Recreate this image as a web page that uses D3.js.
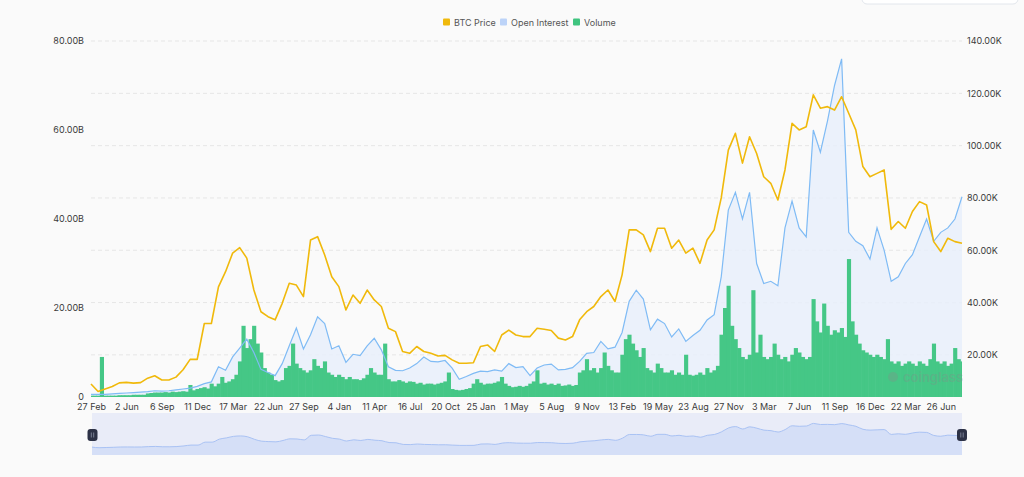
<!DOCTYPE html>
<html>
<head>
<meta charset="utf-8">
<script src="https://cdn.jsdelivr.net/npm/d3@7"></script>
<style>
  html, body { margin: 0; padding: 0; background: #fafafa; }
  #canvas { width: 1024px; height: 477px; overflow: hidden; }
  text { font-family: Inter, 'Noto Sans', sans-serif; }
</style>
</head>
<body>
<div id="canvas"></div>
<script>
// x axis labels, one every 5 price / OI points
var xLabels = ['27 Feb', '2 Jun', '6 Sep', '11 Dec', '17 Mar', '22 Jun', '27 Sep', '4 Jan', '11 Apr',
  '16 Jul', '20 Oct', '25 Jan', '1 May', '5 Aug', '9 Nov', '13 Feb', '19 May', '23 Aug', '27 Nov',
  '3 Mar', '7 Jun', '11 Sep', '16 Dec', '22 Mar', '26 Jun'];

var seriesNames = ['BTC Price', 'Open Interest', 'Volume'];

// BTC price, thousands of USD (right axis)
var priceK = [
  8.9, 6.0, 7.0, 7.9, 9.3, 9.5, 9.2, 9.4, 11.1, 12.0,
  10.4, 10.4, 11.5, 14.3, 18.3, 18.3, 32.0, 32.0, 46.0, 51.8,
  58.9, 61.0, 57.0, 44.8, 36.5, 34.6, 33.4, 39.7, 47.4, 46.7,
  42.3, 63.9, 65.2, 58.2, 49.9, 46.1, 37.2, 42.9, 39.7, 44.8,
  41.0, 38.5, 30.2, 28.9, 21.3, 20.6, 23.2, 21.3, 20.6, 19.6,
  19.8, 18.1, 16.8, 16.8, 17.0, 23.2, 23.8, 21.3, 27.6, 29.5,
  27.6, 27.0, 27.0, 30.2, 29.8, 29.3, 26.4, 25.7, 27.0, 33.4,
  36.5, 38.5, 42.3, 44.8, 40.4, 50.6, 67.8, 67.8, 65.9, 59.5,
  68.4, 68.4, 60.8, 63.9, 58.9, 60.8, 55.0, 63.9, 67.8, 80.0,
  98.3, 104.7, 93.3, 103.4, 97.0, 88.1, 85.6, 79.2, 90.7, 108.5,
  106.0, 107.2, 119.4, 114.3, 114.9, 113.6, 118.7, 112.4, 106.0, 92.0,
  88.1, 89.4, 90.7, 68.0, 71.0, 68.4, 74.8, 78.6, 77.3, 63.3,
  59.5, 64.6, 63.3, 62.7
];

// open interest, billions of USD (left axis)
var openInterestB = [
  0.6, 0.6, 0.6, 0.7, 0.8, 0.9, 1.0, 1.1, 1.2, 1.4,
  1.3, 1.4, 1.6, 1.8, 2.0, 2.4, 3.0, 3.4, 6.8, 6.0,
  9.0, 11.0, 13.0, 10.0, 6.2, 5.5, 4.8, 7.5, 11.5, 15.5,
  10.8, 14.0, 18.0, 16.5, 10.8, 11.5, 7.8, 9.6, 9.3, 11.5,
  13.2, 10.6, 6.8, 6.0, 5.9, 6.5, 7.5, 9.0, 8.0, 7.9,
  8.2, 6.5, 4.0, 4.6, 5.3, 5.8, 5.7, 6.1, 5.8, 7.5,
  6.6, 6.8, 4.8, 6.5, 7.2, 7.4, 6.1, 6.2, 6.6, 8.0,
  9.8, 10.0, 12.5, 10.8, 11.2, 14.5, 21.5, 24.0, 22.0, 15.1,
  17.5, 16.5, 13.5, 15.3, 12.5, 13.8, 15.0, 17.3, 18.5, 27.0,
  42.0, 46.0, 40.0, 46.0, 30.0, 25.5, 26.0, 25.0, 38.0, 44.0,
  38.0, 36.0, 60.0, 55.0, 62.0, 70.0, 76.0, 37.0, 35.0, 34.0,
  31.0, 38.0, 33.0, 26.0, 27.0, 30.0, 32.0, 36.0, 40.0, 35.0,
  37.0, 38.0, 40.0, 45.0
];

// volume, billions of USD (left axis), two bars per price point
var volumeB = [
  0.3, 0.3, 0.3, 9.0, 0.3, 0.3, 0.3, 0.3, 0.4, 0.4,
  0.4, 0.4, 0.5, 0.5, 0.5, 0.5, 0.8, 0.9, 1.0, 1.0,
  1.0, 1.1, 1.0, 1.2, 1.1, 1.2, 1.3, 1.2, 2.7, 1.5,
  1.8, 2.0, 2.2, 1.9, 3.0, 2.4, 3.0, 4.5, 3.2, 3.5,
  4.0, 5.0, 8.0, 16.0, 11.0, 13.0, 16.0, 12.0, 10.0, 6.5,
  5.5, 5.0, 3.8, 3.5, 3.8, 6.5, 7.0, 12.0, 7.5, 6.5,
  6.0, 5.5, 6.0, 8.5, 7.0, 6.5, 8.0, 5.5, 5.0, 4.5,
  5.0, 4.5, 4.0, 4.5, 4.0, 4.0, 3.8, 4.2, 5.0, 6.5,
  5.5, 5.0, 5.0, 12.0, 4.0, 3.5, 3.5, 3.8, 3.5, 3.2,
  3.5, 3.4, 3.0, 3.2, 2.8, 3.0, 3.0, 2.8, 3.0, 3.2,
  3.5, 5.5, 1.8, 1.6, 1.5, 1.6, 1.8, 2.0, 3.0, 4.0,
  3.2, 2.8, 3.0, 3.0, 3.2, 3.5, 4.5, 3.0, 2.5, 2.2,
  2.3, 2.5, 2.3, 2.5, 3.0, 3.5, 6.0, 3.0, 3.2, 2.8,
  3.0, 2.7, 3.0, 2.5, 2.6, 2.8, 2.5, 2.7, 5.5, 6.0,
  8.5, 6.0, 6.5, 5.5, 6.5, 10.0, 7.0, 6.0, 5.5, 5.5,
  9.5, 13.0, 14.0, 12.0, 10.5, 9.0, 11.0, 6.5, 6.0, 5.5,
  7.5, 6.5, 5.5, 5.5, 6.0, 5.0, 5.5, 5.0, 9.5, 5.0,
  4.8, 5.0, 5.5, 5.0, 6.5, 5.5, 6.0, 7.0, 14.0, 20.0,
  25.0, 16.0, 13.0, 11.0, 9.0, 8.5, 9.5, 24.0, 10.0, 14.0,
  9.0, 8.5, 9.0, 12.0, 9.5, 8.5, 9.0, 8.0, 9.5, 11.0,
  10.0, 9.0, 8.5, 9.0, 22.0, 17.0, 14.5, 21.0, 16.0, 14.0,
  15.0, 14.5, 15.5, 13.5, 31.0, 17.0, 14.0, 12.0, 10.5, 10.0,
  9.5, 9.0, 9.5, 9.0, 8.5, 13.0, 8.0, 7.5, 8.0, 7.0,
  7.5, 8.0, 7.5, 7.0, 8.0, 7.5, 7.0, 8.5, 12.0, 8.0,
  7.5, 8.0, 7.0, 7.5, 11.0, 8.5, 8.0
];

var leftTicks = [0, 20, 40, 60, 80];
var rightTicks = [20, 40, 60, 80, 100, 120, 140];

(function (d3) {
  var svg, x, xVol, yLeft, yRight, yNav;
  var plot = { left: 91, right: 962, top: 41, bottom: 397 };
  var labelEvery = 5;

  init();

  function init () {
    createSvg();
    createScales();
    createGrid();
    createAxes();
    createOpenInterest();
    createVolume();
    createLines();
    createWatermark();
    createLegend();
    createNavigator();
  }

  function createSvg () {
    svg = d3.select('#canvas')
      .append('svg')
      .attr('width', 1024)
      .attr('height', 477);

    svg.append('defs')
      .append('clipPath')
      .attr('id', 'plot-clip')
      .append('rect')
      .attr('x', plot.left)
      .attr('y', 0)
      .attr('width', plot.right - plot.left)
      .attr('height', plot.bottom);

    // the corner of a box above the chart
    svg.append('rect')
      .attr('x', 862)
      .attr('y', -12)
      .attr('width', 156)
      .attr('height', 16)
      .attr('rx', 5)
      .attr('fill', '#fff')
      .attr('stroke', '#e2e6ec');
  }

  function createScales () {
    x = d3.scaleLinear()
      .domain([0, priceK.length - 1])
      .range([plot.left, plot.right]);
    xVol = d3.scaleLinear()
      .domain([0, volumeB.length - 1])
      .range([plot.left, plot.right]);
    yLeft = d3.scaleLinear().domain([0, 80]).range([plot.bottom, plot.top]);
    // right axis does not start at zero
    yRight = d3.scaleLinear().domain([3.9, 140]).range([plot.bottom, plot.top]);
    yNav = d3.scaleLinear().domain([0, 140]).range([449, 419]);
  }

  function createGrid () {
    svg.append('g')
      .selectAll('line')
      .data(rightTicks)
      .enter()
      .append('line')
      .attr('x1', plot.left)
      .attr('x2', plot.right)
      .attr('y1', function (d) { return yRight(d); })
      .attr('y2', function (d) { return yRight(d); })
      .attr('stroke', '#e6e6e6')
      .attr('stroke-dasharray', '4,3');
  }

  function createAxes () {
    var left = d3.axisLeft(yLeft)
      .tickValues(leftTicks)
      .tickSize(0)
      .tickPadding(6)
      .tickFormat(function (d) { return d === 0 ? '0' : d3.format('.2f')(d) + 'B'; });
    var right = d3.axisRight(yRight)
      .tickValues(rightTicks)
      .tickSize(0)
      .tickPadding(5)
      .tickFormat(function (d) { return d3.format('.2f')(d) + 'K'; });
    var bottom = d3.axisBottom(x)
      .tickValues(xLabels.map(function (d, i) { return i * labelEvery; }))
      .tickSize(0)
      .tickPadding(7)
      .tickFormat(function (d) { return xLabels[d / labelEvery]; });

    [
      svg.append('g').attr('transform', 'translate(' + (plot.left - 1) + ',0)').call(left),
      svg.append('g').attr('transform', 'translate(' + plot.right + ',0)').call(right),
      svg.append('g').attr('transform', 'translate(0,' + plot.bottom + ')').call(bottom)
    ].forEach(function (g) {
      g.select('.domain').remove();
      g.selectAll('text')
        .attr('fill', '#3a3a3a')
        .style('font-size', '9px');
    });
  }

  function createOpenInterest () {
    var area = d3.area()
      .x(function (d, i) { return x(i); })
      .y0(plot.bottom)
      .y1(function (d) { return yLeft(d); });

    svg.append('path')
      .datum(openInterestB)
      .attr('d', area)
      .attr('fill', '#e7effa')
      .attr('opacity', 0.85);
  }

  function createVolume () {
    var step = xVol(1) - xVol(0);
    // bars overlap a little so no seams show between them
    svg.append('g')
      .attr('clip-path', 'url(#plot-clip)')
      .selectAll('rect')
      .data(volumeB)
      .enter()
      .append('rect')
      .attr('x', function (d, i) { return xVol(i) - step / 2; })
      .attr('width', step + 0.6)
      .attr('y', function (d) { return yLeft(d); })
      .attr('height', function (d) { return plot.bottom - yLeft(d); })
      .attr('fill', '#45c786');
  }

  function createLines () {
    var oiLine = d3.line()
      .x(function (d, i) { return x(i); })
      .y(function (d) { return yLeft(d); });
    svg.append('path')
      .datum(openInterestB)
      .attr('d', oiLine)
      .attr('fill', 'none')
      .attr('stroke', '#7fbbf5')
      .attr('stroke-width', 1.2);

    var priceLine = d3.line()
      .x(function (d, i) { return x(i); })
      .y(function (d) { return yRight(d); });
    svg.append('path')
      .datum(priceK)
      .attr('d', priceLine)
      .attr('fill', 'none')
      .attr('stroke', '#f0b90b')
      .attr('stroke-width', 1.6)
      .attr('stroke-linejoin', 'round');
  }

  function createWatermark () {
    var g = svg.append('g').attr('opacity', 0.3);
    g.append('circle')
      .attr('cx', 893)
      .attr('cy', 377)
      .attr('r', 5)
      .attr('fill', '#8a8a8a');
    g.append('text')
      .attr('x', 903)
      .attr('y', 382)
      .text('coinglass')
      .attr('fill', '#8a8a8a')
      .style('font-size', '13px')
      .style('font-weight', 600);
  }

  function createLegend () {
    var colors = ['#f0b90b', '#bcd3f8', '#3fc47f'];
    var offsets = [443, 500, 573];
    var items = svg.append('g')
      .selectAll('g')
      .data(seriesNames)
      .enter()
      .append('g')
      .attr('transform', function (d, i) { return 'translate(' + offsets[i] + ',18.5)'; });
    items.append('rect')
      .attr('width', 7)
      .attr('height', 7)
      .attr('rx', 1)
      .attr('fill', function (d, i) { return colors[i]; });
    items.append('text')
      .attr('x', 11)
      .attr('y', 7)
      .text(function (d) { return d; })
      .attr('fill', '#555')
      .style('font-size', '9px');
  }

  function createNavigator () {
    var nav = svg.append('g');
    nav.append('rect')
      .attr('x', 92)
      .attr('y', 413)
      .attr('width', 870)
      .attr('height', 42)
      .attr('fill', '#e9ecf8');

    var navX = d3.scaleLinear().domain(x.domain()).range([92, 962]);
    var area = d3.area()
      .x(function (d, i) { return navX(i); })
      .y0(455)
      .y1(function (d) { return yNav(d); })
      .curve(d3.curveMonotoneX);
    nav.append('path')
      .datum(priceK)
      .attr('d', area)
      .attr('fill', '#d5dff7');
    nav.append('path')
      .datum(priceK)
      .attr('d', area.lineY1())
      .attr('fill', 'none')
      .attr('stroke', '#a9c2f4')
      .attr('stroke-width', 1);

    var handles = nav.selectAll('.handle')
      .data([92.5, 962])
      .enter()
      .append('g')
      .attr('transform', function (d) { return 'translate(' + d + ',435)'; });
    handles.append('rect')
      .attr('x', -5)
      .attr('y', -6)
      .attr('width', 10)
      .attr('height', 12)
      .attr('rx', 3)
      .attr('fill', '#2d3246');
    handles.selectAll('line')
      .data([-1.2, 1.2])
      .enter()
      .append('line')
      .attr('x1', function (d) { return d; })
      .attr('x2', function (d) { return d; })
      .attr('y1', -2.5)
      .attr('y2', 2.5)
      .attr('stroke', '#9aa0b5')
      .attr('stroke-width', 0.7);
  }
})(window.d3);
</script>
</body>
</html>
